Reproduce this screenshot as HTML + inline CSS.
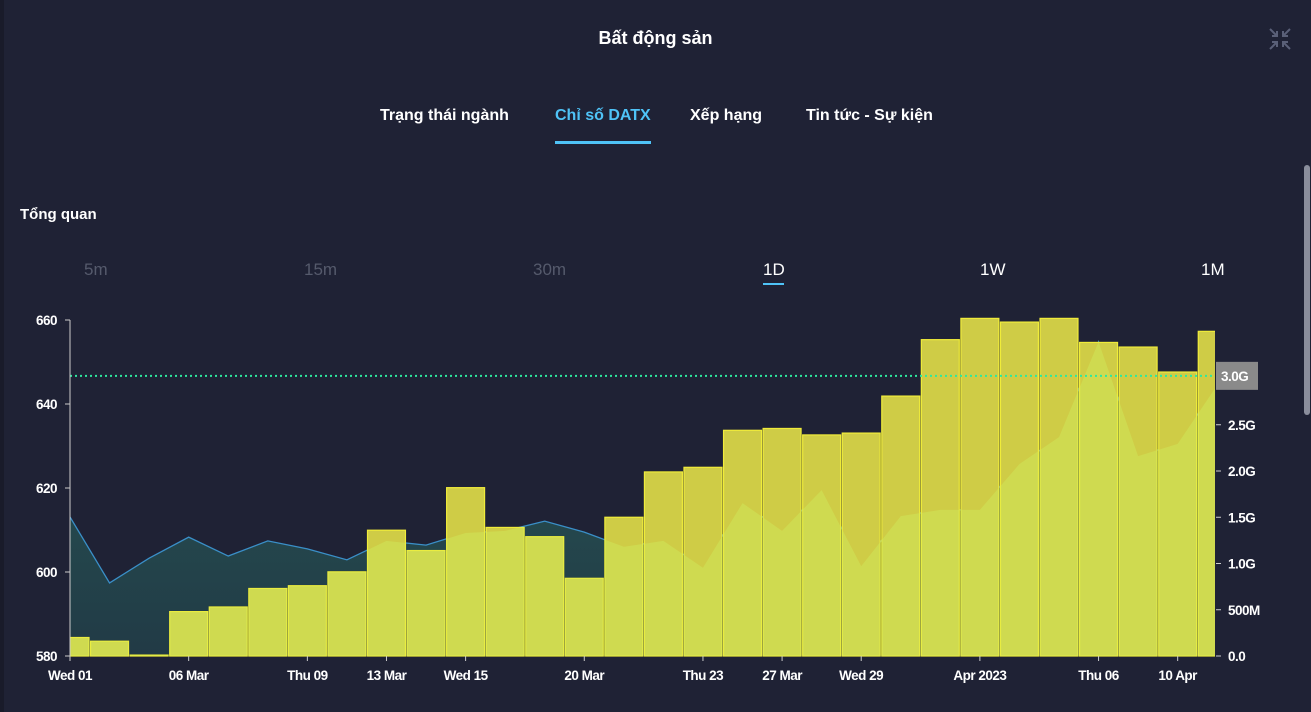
<!DOCTYPE html>
<html><head><meta charset="utf-8">
<style>
html,body{margin:0;padding:0;background:#1f2235;width:1311px;height:712px;overflow:hidden;font-family:"Liberation Sans","Noto Sans CJK SC",sans-serif;}
.abs{position:absolute;}
.tab{position:absolute;top:107px;font-size:16px;color:#fff;font-weight:bold;white-space:nowrap;}
.tf{position:absolute;top:260px;font-size:17px;color:#555a6c;}
</style></head><body>
<div class="abs" style="left:0;top:0;width:4px;height:712px;background:#191b2a"></div>
<div class="abs" style="left:0;width:1311px;top:28px;text-align:center;color:#fff;font-weight:bold;font-size:18px">Bất động sản</div>
<svg class="abs" style="left:1268px;top:27px" width="24" height="24" viewBox="0 0 24 24"><g stroke="#5a6078" stroke-width="2" fill="none"><path d="M2 2L9 9M9 4V9H4"/><path d="M22 2L15 9M15 4V9H20"/><path d="M2 22L9 15M9 20V15H4"/><path d="M22 22L15 15M15 20V15H20"/></g></svg>
<div class="tab" style="left:380px">Trạng thái ngành</div>
<div class="tab" style="left:555px;color:#4fc3f7">Chỉ số DATX</div>
<div class="abs" style="left:555px;top:141px;width:96px;height:3px;background:#4fc3f7"></div>
<div class="tab" style="left:690px">Xếp hạng</div>
<div class="tab" style="left:806px">Tin tức - Sự kiện</div>
<div class="abs" style="left:20px;top:206px;color:#fff;font-weight:bold;font-size:15px">Tổng quan</div>
<div class="tf" style="left:84px">5m</div>
<div class="tf" style="left:304px">15m</div>
<div class="tf" style="left:533px">30m</div>
<div class="tf" style="left:763px;color:#fff">1D</div>
<div class="abs" style="left:763px;top:283px;width:21px;height:2px;background:#4fc3f7"></div>
<div class="tf" style="left:980px;color:#fff">1W</div>
<div class="tf" style="left:1201px;color:#fff">1M</div>
<div class="abs" style="left:1304px;top:165px;width:6px;height:250px;background:#8a8e9c;border-radius:3px"></div>

<svg class="abs" id="chart" style="left:0;top:300px" width="1311" height="400"></svg>

<script>
const labels=["Wed 01","","","06 Mar","","","Thu 09","","13 Mar","","Wed 15","","","20 Mar","","","Thu 23","","27 Mar","","Wed 29","","","Apr 2023","","","Thu 06","","10 Apr",""];
const volumes=[0.2,0.16,0.01,0.48,0.53,0.73,0.76,0.91,1.36,1.14,1.82,1.39,1.29,0.84,1.50,1.99,2.04,2.44,2.46,2.39,2.41,2.81,3.42,3.65,3.61,3.65,3.39,3.34,3.07,3.51];
const prices=[613.1,597.4,603.3,608.3,603.8,607.4,605.5,602.9,607.4,606.4,609.3,609.8,612.1,609.5,606,607.4,601,616.4,609.8,619.5,601.4,613.3,614.8,614.8,625.7,632.1,654.8,627.6,630.5,644.5];
const priceTicks=[580,600,620,640,660];
const volTicks=[0,0.5,1.0,1.5,2.0,2.5];
const volTickLabels=["0.0","500M","1.0G","1.5G","2.0G","2.5G"];
const refPrice=646.7;
const refLabel="3.0G";

const NS="http://www.w3.org/2000/svg";
const svg=document.getElementById('chart');
const OY=300, X0=70, X1=1215, STEP=39.56;
const xs=i=>X0+STEP*i;
const yp=v=>656-OY-(v-580)*4.2;
const yv=v=>656-OY-v*92.5;
function mk(t,a){const e=document.createElementNS(NS,t);for(const k in a)e.setAttribute(k,a[k]);return e;}
const defs=mk('defs',{});
defs.innerHTML='<linearGradient id="ag" x1="0" y1="0" x2="0" y2="1"><stop offset="0" stop-color="#2a6a60" stop-opacity="0.75"/><stop offset="1" stop-color="#22404a" stop-opacity="0.8"/></linearGradient><clipPath id="pc"><rect x="70" y="0" width="1145" height="357"/></clipPath><clipPath id="bc"></clipPath>';
svg.appendChild(defs);
const bc=defs.querySelector('#bc');
const g=mk('g',{'clip-path':'url(#pc)'});svg.appendChild(g);
let d='M'+xs(0)+','+yp(prices[0]);
prices.forEach((p,i)=>{if(i)d+=' L'+xs(i)+','+yp(p);});
const areaD=d+' L'+xs(prices.length-1)+','+yp(580)+' L'+xs(0)+','+yp(580)+'Z';
const area=mk('path',{d:areaD,fill:'url(#ag)'});


g.appendChild(area);
const line=mk('path',{d:d,fill:'none',stroke:'#3a8fc8','stroke-width':'1.3'});


g.appendChild(line);
volumes.forEach((v,i)=>{
  const x=xs(i)-STEP/2+0.8,w=STEP-1.6,y=yv(v),h=yv(0)-y;
  const r=mk('rect',{x:x,y:y,width:w,height:h,fill:'#cfcc46',stroke:'#f0ec3a','stroke-width':'1.2'});
  
  
  g.appendChild(r);
  bc.appendChild(mk('rect',{x:x,y:y,width:w,height:h}));
});
const area2=mk('path',{d:areaD,fill:'#d0f060','fill-opacity':'0.4','clip-path':'url(#bc)'});


g.appendChild(area2);
const ref=mk('line',{x1:X0,x2:X1,y1:yp(refPrice),y2:yp(refPrice),stroke:'#2ee8a0','stroke-width':'2','stroke-dasharray':'2 3'});


svg.appendChild(ref);
const la=mk('line',{x1:X0,x2:X0,y1:yp(660),y2:yp(580),stroke:'#ccc','stroke-width':'1'});


svg.appendChild(la);
const ts='font-family:"Liberation Sans",sans-serif;font-weight:bold;font-size:13.5px;fill:#fff;letter-spacing:-0.5px';
priceTicks.forEach(v=>{
  svg.appendChild(mk('line',{x1:X0-5,x2:X0,y1:yp(v),y2:yp(v),stroke:'#ccc'}));
  const t=mk('text',{x:57,y:yp(v)+5,'text-anchor':'end',style:ts});t.textContent=v;
  
  
  svg.appendChild(t);
});
volTicks.forEach((v,i)=>{
  svg.appendChild(mk('line',{x1:1216,x2:1221,y1:yv(v),y2:yv(v),stroke:'#ccc'}));
  const t=mk('text',{x:1228,y:yv(v)+5,style:ts});t.textContent=volTickLabels[i];
  
  
  svg.appendChild(t);
});
const lb=mk('rect',{x:1216,y:yp(refPrice)-14,width:42,height:28,fill:'#8a8a8a'});


svg.appendChild(lb);
const lt=mk('text',{x:1221,y:yp(refPrice)+5,style:ts});lt.textContent=refLabel;


svg.appendChild(lt);
labels.forEach((l,i)=>{
  if(!l)return;
  svg.appendChild(mk('line',{x1:xs(i),x2:xs(i),y1:yp(580),y2:yp(580)+5,stroke:'#ccc'}));
  const t=mk('text',{x:xs(i),y:yp(580)+24,'text-anchor':'middle',style:ts});t.textContent=l;
  
  
  svg.appendChild(t);
});
</script>
</body></html>
